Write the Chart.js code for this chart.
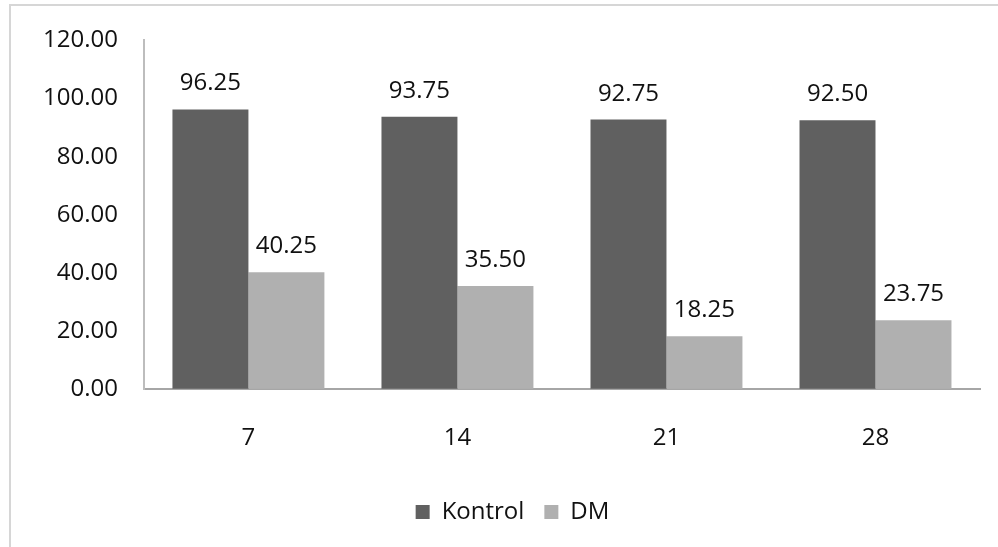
<!DOCTYPE html>
<html><head><meta charset="utf-8">
<script src="https://cdn.jsdelivr.net/npm/chart.js@4/dist/chart.umd.min.js"></script>
<style>
html,body{margin:0;padding:0;background:#fff;}
#wrap{position:relative;width:998px;height:547px;overflow:hidden;}
#frame{position:absolute;left:9px;top:4px;width:1200px;height:800px;border:2px solid #d6d6d6;box-sizing:border-box;}
canvas{position:absolute;left:0;top:0;}
</style></head>
<body><div id="wrap"><div id="frame"></div><canvas id="c" width="998" height="547"></canvas></div>
<script>
// Days of observation and the two group means
const categories = ['7', '14', '21', '28'];
const kontrolValues = [96.25, 93.75, 92.75, 92.50];
const dmValues = [40.25, 35.50, 18.25, 23.75];
const seriesNames = ['Kontrol', 'DM'];
const yTicks = [0, 20, 40, 60, 80, 100, 120];

const FONT = { family: '"Open Sans", sans-serif', size: 24 };
const TEXT = '#111';

// Writes each bar's value just above it
const valueLabels = {
  id: 'valueLabels',
  afterDatasetsDraw(chart) {
    const ctx = chart.ctx;
    ctx.save();
    ctx.font = `${FONT.size}px ${FONT.family}`;
    ctx.fillStyle = TEXT;
    ctx.textAlign = 'center';
    ctx.textBaseline = 'alphabetic';
    chart.data.datasets.forEach((ds, i) => {
      chart.getDatasetMeta(i).data.forEach((bar, j) => {
        ctx.fillText(ds.data[j].toFixed(2), bar.x, bar.y - 19);
      });
    });
    ctx.restore();
  }
};

// Nudges the legend a little to the right of the canvas centre
const legendShift = {
  id: 'legendShift',
  afterLayout(chart) {
    if (chart.legend) { chart.legend.left += 28; chart.legend.right += 0; }
  }
};

new Chart(document.getElementById('c'), {
  type: 'bar',
  data: {
    labels: categories,
    datasets: [
      { label: seriesNames[0], data: kontrolValues, backgroundColor: '#606060' },
      { label: seriesNames[1], data: dmValues, backgroundColor: '#b0b0b0' }
    ]
  },
  options: {
    responsive: false,
    animation: false,
    layout: { padding: { left: 17, right: 18, top: 22, bottom: 13 } },
    datasets: { bar: { categoryPercentage: 0.727, barPercentage: 1.0 } },
    scales: {
      x: {
        grid: { color: 'rgba(0,0,0,0)', drawTicks: false },
        border: { display: true, color: '#a6a6a6', width: 2 },
        ticks: { font: FONT, color: TEXT, padding: 35 },
        // tighter band between the category labels and the legend
        afterFit(axis) { axis.height -= 8; }
      },
      y: {
        min: 0, max: 120,
        afterBuildTicks(axis) { axis.ticks = yTicks.map(v => ({ value: v })); },
        grid: { color: 'rgba(0,0,0,0)', drawTicks: false },
        border: { display: true, color: '#bdbdbd', width: 2 },
        ticks: { font: FONT, color: TEXT, padding: 26, callback: v => Number(v).toFixed(2) }
      }
    },
    plugins: {
      legend: {
        position: 'bottom',
        labels: { font: FONT, color: TEXT, boxWidth: 14, boxHeight: 14, padding: 20 }
      },
      tooltip: { enabled: false }
    }
  },
  plugins: [valueLabels, legendShift]
});
</script>
</body></html>
